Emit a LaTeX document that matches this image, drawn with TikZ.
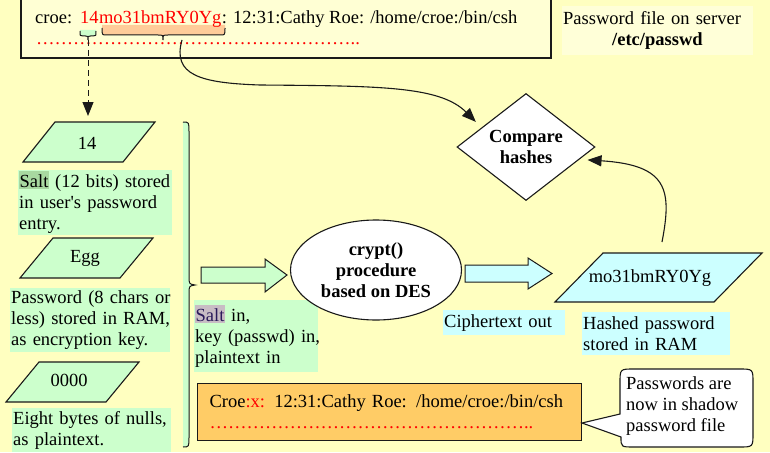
\documentclass[tikz,border=0pt]{standalone}
\usepackage{fontspec}
\setmainfont{Liberation Serif}
\usetikzlibrary{arrows.meta,shapes.geometric,calc}
\definecolor{bgyel}{HTML}{FFFFC0}
\definecolor{boxyel}{HTML}{FFFFD4}
\definecolor{paleyel}{HTML}{FFFFD8}
\definecolor{lgreen}{HTML}{CCFFCC}
\definecolor{dgreen}{HTML}{A8D8A0}
\definecolor{lcyan}{HTML}{CCFFFF}
\definecolor{orng}{HTML}{FFCC66}
\definecolor{salmon}{HTML}{FFCC99}
\definecolor{saltgray}{HTML}{C8BCC4}
\definecolor{saltink}{HTML}{2A1A5A}
\definecolor{txtred}{HTML}{FF0000}
\definecolor{linec}{HTML}{1A1A1A}
\newcommand\myfont{\fontsize{18.5}{21}\selectfont}
\newcommand\oneline[1]{\mbox{#1}}
\newcommand\hlgreen[1]{{\setlength{\fboxsep}{0.5pt}\colorbox{dgreen}{\rule[-1pt]{0pt}{17pt}#1}}}
\newcommand\hlgray[1]{{\setlength{\fboxsep}{0.5pt}\colorbox{saltgray}{\rule[-1pt]{0pt}{17pt}\textcolor{saltink}{#1}}}}
\newcommand\fourell{{…}{…}{…}{…}}
\newcommand\reddots{\textcolor{txtred}{\fourell\fourell\fourell\fourell{…}..}}
\begin{document}
\begin{tikzpicture}[x=1pt,y=-1pt,
  every node/.style={font=\myfont, inner sep=0pt},
  outl/.style={draw=linec, line width=1.1pt},
  note/.style={anchor=north west, align=left, inner xsep=1pt, inner ysep=1pt},
  para/.style={outl, fill=lgreen},
  conn/.style={draw=linec, line width=1.1pt, -{Triangle[length=14pt,width=11pt]}},
  bracestroke/.style={draw=linec, line width=1pt},
]
\fill[bgyel] (0,0) rectangle (770,452);
\useasboundingbox (0,0) rectangle (770,452);

% top password line
\draw[outl, fill=boxyel] (21,-2) rectangle (551,58);
\fill[salmon] (102,25) -- (102,30) .. controls (102,35) .. (107,35) -- (158,35) .. controls (163,35) .. (163,40) .. controls (163,35) .. (168,35) -- (220,35) .. controls (225,35) .. (225,30) -- (225,25) -- cycle;
\draw[bracestroke] (102,28) .. controls (102,35) .. (107,35) -- (158,35) .. controls (163,35) .. (163,40) .. controls (163,35) .. (168,35) -- (220,35) .. controls (225,35) .. (225,28);
\fill[lgreen] (80,30) -- (80,33) .. controls (80,36) .. (83,36) -- (85.5,36) .. controls (88,36) .. (88,40) .. controls (88,36) .. (90.5,36) -- (93,36) .. controls (96,36) .. (96,33) -- (96,30) -- cycle;
\draw[bracestroke] (80,31) .. controls (80,36) .. (83,36) -- (85.5,36) .. controls (88,36) .. (88,40) .. controls (88,36) .. (90.5,36) -- (93,36) .. controls (96,36) .. (96,31);
\node[anchor=base west] (t1) at (35,24) {croe:};
\node[anchor=base west, text=txtred] (t2) at (80,24) {14};
\node[anchor=base west, text=txtred] (t3) at (t2.base east) {mo31bmRY0Yg};
\node[anchor=base west] (t4) at (t3.base east) {: 12:31:Cathy Roe: /home/croe:/bin/csh};
\node[anchor=base west] (dots1) at (36,45) {\reddots};
\coordinate (saltTip) at (88,40);
\coordinate (hashTip) at (182,40);

% label top right
\node[note, fill=paleyel, text width=189pt, minimum height=49pt] (pwfile) at (562,6)
  {Password file on server\\\hspace*{49pt}\textbf{/etc/passwd}};

% left column
\draw[para] (23,162) -- (123,162) -- (155,122) -- (55,122) -- cycle;
\node (p14) at (87,143) {14};
\coordinate (p14top) at (88,122);
\node[note, fill=lgreen, text width=152pt, minimum height=63pt] (saltTxt) at (18,170)
  {\oneline{\hlgreen{Salt} (12 bits) stored}\\\oneline{in user\textquotesingle s password}\\\oneline{entry.}};

\draw[para] (20,278) -- (120,278) -- (153,238) -- (53,238) -- cycle;
\node (pEgg) at (85,258) {Egg};
\node[note, fill=lgreen, text width=158pt, minimum height=64pt] (pwdTxt) at (10,288)
  {\oneline{Password (8 chars or}\\\oneline{less) stored in RAM,}\\\oneline{as encryption key.}};

\draw[para] (6,402) -- (106,402) -- (139,362) -- (39,362) -- cycle;
\node (p0) at (69,380) {0000};
\node[note, fill=lgreen, text width=157pt, minimum height=44pt] (nullTxt) at (12,408)
  {\oneline{Eight bytes of nulls,}\\\oneline{as plaintext.}};

% big brace
\fill[lgreen] (183,122) .. controls (189,122) .. (189,132) -- (189,276) .. controls (189,284) .. (195,285) .. controls (189,286) .. (189,294) -- (189,437) .. controls (189,447) .. (183,447) -- cycle;
\draw[bracestroke] (183,122) .. controls (189,122) .. (189,132) -- (189,276) .. controls (189,284) .. (195,285) .. controls (189,286) .. (189,294) -- (189,437) .. controls (189,447) .. (183,447);

% inputs
\draw[outl, line width=1pt, fill=lgreen] (201,267) -- (265,267) -- (265,259) -- (287,275) -- (265,292) -- (265,283) -- (201,283) -- cycle;
\node[note, fill=lgreen, text width=122pt, minimum height=72pt] (inTxt) at (194,300)
  {\oneline{\hlgray{Salt} in,}\\\oneline{key (passwd) in,}\\\oneline{plaintext in}};

% crypt
\node[ellipse, outl, fill=white, minimum width=171pt, minimum height=100pt, align=center,
  font=\myfont\bfseries] (crypt) at (376,270) {crypt()\\procedure\\based on DES};

% output
\draw[outl, line width=1pt, fill=lcyan] (465,265) -- (528,265) -- (528,258) -- (552,273.5) -- (528,289) -- (528,282) -- (465,282) -- cycle;
\node[note, fill=lcyan, text width=120pt, minimum height=25pt] (cipherTxt) at (443,310) {Ciphertext out};
\draw[outl, fill=lcyan] (555,302) -- (714,302) -- (762,253) -- (603,253) -- cycle;
\node (hashv) at (650,278) {mo31bmRY0Yg};
\coordinate (hashUp) at (662,242);
\node[note, fill=lcyan, text width=146pt, minimum height=43pt] (hashTxt) at (582,312)
  {Hashed password\\stored in RAM};

% compare
\node[diamond, outl, fill=white, minimum width=138pt, minimum height=107pt, aspect=1.3,
  align=center, font=\myfont\bfseries] (cmp) at (526,147) {Compare\\hashes};

% shadow entry
\node[note, outl, fill=orng, inner xsep=12pt, text width=360pt, minimum height=57pt] (entry) at (197,383)
  {\oneline{Croe\textcolor{txtred}{:x:} 12:31:Cathy Roe: /home/croe:/bin/csh}\\\oneline{\reddots}};

% callout
\draw[outl, fill=white] (620,414) -- (620,383) .. controls (620,369) .. (634,369) -- (739,369)
  .. controls (753,369) .. (753,383) -- (753,433) .. controls (753,447) .. (739,447) -- (634,447)
  .. controls (621,447) .. (621,437) -- (582,423) -- cycle;
\node[anchor=west, align=left] (shadow) at (626,406) {Passwords are\\now in shadow\\password file};

% connectors
\draw[conn, dash pattern=on 6pt off 4pt, line width=1pt, shorten >=6pt] (saltTip) -- (p14top);
\draw[conn, shorten >=8pt] (hashTip) .. controls (172,75) and (200,83) .. (260,85)
  .. controls (380,86) and (440,86) .. ($(cmp.west)!0.36!(cmp.north)$);
\draw[conn, shorten >=8pt] (hashUp) .. controls (672,190) and (668,165) .. ($(cmp.east)!0.23!(cmp.south)$);
\end{tikzpicture}
\end{document}
